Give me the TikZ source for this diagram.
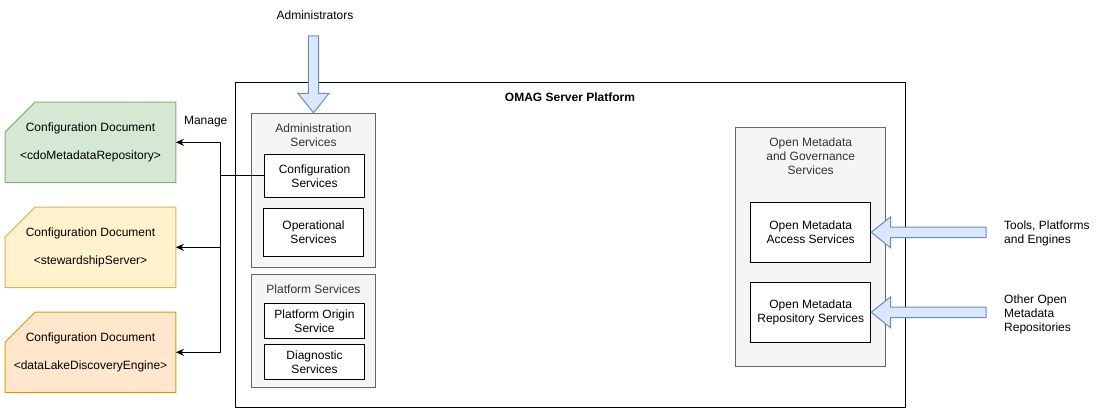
\documentclass[tikz,border=0pt]{standalone}
\usepackage{fontspec}
\setmainfont{Liberation Sans}
\usetikzlibrary{positioning,calc,backgrounds,arrows.meta}

\definecolor{greenfill}{HTML}{D5E8D4}
\definecolor{greenline}{HTML}{82B366}
\definecolor{yellowfill}{HTML}{FFF2CC}
\definecolor{yellowline}{HTML}{D6B656}
\definecolor{orangefill}{HTML}{FFE6CC}
\definecolor{orangeline}{HTML}{D79B00}
\definecolor{grayfill}{HTML}{F5F5F5}
\definecolor{grayline}{HTML}{666666}
\definecolor{graytext}{HTML}{333333}
\definecolor{bluefill}{HTML}{DAE8FC}
\definecolor{blueline}{HTML}{6C8EBF}

\tikzset{
  box/.style={draw, line width=1pt, fill=white, align=center, inner sep=0pt},
  group/.style={draw=grayline, fill=grayfill, line width=1pt, inner sep=0pt},
  grouptitle/.style={text=graytext, align=center, inner sep=0pt},
  doc/.style={align=center, inner sep=0pt, minimum width=170.4pt, minimum height=80pt},
  flex/.style={draw=blueline, fill=bluefill, line width=1pt, line join=miter},
  wire/.style={line width=1pt},
  label/.style={inner sep=0pt, align=left}
}

% block arrow: tip, direction, length
\newcommand{\flexarrow}[3]{%
  \draw[flex, shift={(#1)}, rotate=#2] (0,0) -- (-19.5,15.6) -- (-19.5,5.2)
    -- (-#3,5.2) -- (-#3,-5.2) -- (-19.5,-5.2) -- (-19.5,-15.6) -- cycle;}

\begin{document}
\begin{tikzpicture}[x=1pt, y=-1pt, font=\fontsize{12}{14}\selectfont]
  \useasboundingbox (0,0) rectangle (1108,413);

  % platform
  \node[draw, line width=1pt, minimum width=669.7pt, minimum height=325pt] (platform) at (570.2,244.8) {};
  \node[inner sep=0pt, font=\fontsize{12}{14}\selectfont\bfseries] (title) at (570,97) {OMAG Server Platform};

  % administration services
  \node[group, minimum width=124.4pt, minimum height=154pt] (admin) at (313.5,190.3) {};
  \node[grouptitle] (admintitle) at (313.5,135) {Administration\\Services};
  \node[box, minimum width=100.4pt, minimum height=43pt] (cfg) at (314.5,175.8) {Configuration\\Services};
  \node[box, minimum width=100.4pt, minimum height=48pt] (oper) at (313.5,232.3) {Operational\\Services};

  % platform services
  \node[group, minimum width=124.4pt, minimum height=113pt] (platsvc) at (313.5,330.8) {};
  \node[grouptitle] (platsvctitle) at (313.5,289) {Platform Services};
  \node[box, minimum width=100.4pt, minimum height=35pt] (origin) at (314.5,320.8) {Platform Origin\\Service};
  \node[box, minimum width=100.4pt, minimum height=35pt] (diag) at (314.5,361.8) {Diagnostic\\Services};

  % open metadata and governance services
  \node[group, minimum width=150pt, minimum height=239.4pt] (omags) at (810.7,247) {};
  \node[grouptitle] (omagstitle) at (810.7,156) {Open Metadata\\and Governance\\Services};
  \node[box, minimum width=120pt, minimum height=60pt] (access) at (810.7,232.3) {Open Metadata\\Access Services};
  \node[box, minimum width=120pt, minimum height=60pt] (repo) at (810.7,312.3) {Open Metadata\\Repository Services};

  % configuration documents
  \node[doc] (cdo) at (90.5,142.3) {Configuration Document\\[14pt]<cdoMetadataRepository>};
  \node[doc] (stew) at (90.5,247.3) {Configuration Document\\[14pt]<stewardshipServer>};
  \node[doc] (lake) at (90.5,352.3) {Configuration Document\\[14pt]<dataLakeDiscoveryEngine>};
  \begin{scope}[on background layer]
    \foreach \d/\f/\s in {cdo/greenfill/greenline, stew/yellowfill/yellowline, lake/orangefill/orangeline}
      \draw[fill=\f, draw=\s, line width=1pt] ($(\d.north west)+(30,0)$) -- (\d.north east)
        -- (\d.south east) -- (\d.south west) -- ($(\d.north west)+(0,30)$) -- cycle;
  \end{scope}

  % labels
  \node[label] (admins) at (315,15) {Administrators};
  \node[label] (manage) at (205.7,121.7) {Manage};
  \node[label, anchor=west] (tools) at (1004,233) {Tools, Platforms\\and Engines};
  \node[label, anchor=west] (others) at (1004,314) {Other Open\\Metadata\\Repositories};

  % connectors
  \coordinate (split) at (220.7,175.8);
  \draw[wire] (cfg.west) -- (split);
  \foreach \d in {cdo, stew, lake}
    \draw[wire, -{Stealth[length=8pt, width=7pt]}] (split) |- (\d.east);

  \flexarrow{admin.north}{-90}{77}
  \flexarrow{access.east}{180}{115}
  \flexarrow{repo.east}{180}{115}
\end{tikzpicture}
\end{document}
